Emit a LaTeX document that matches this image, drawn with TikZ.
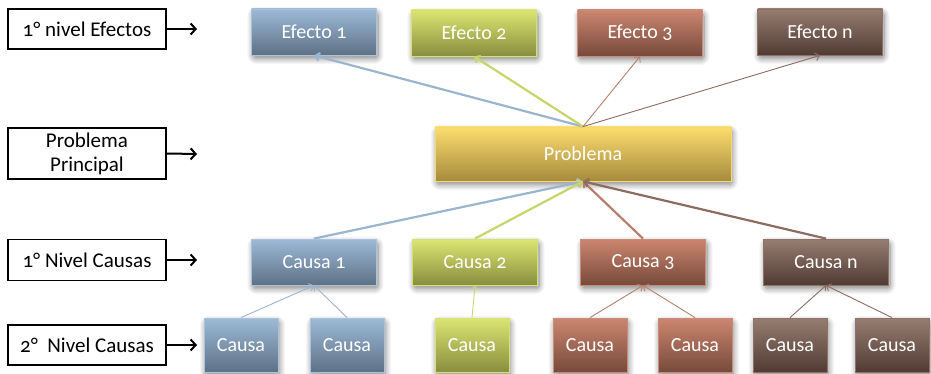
\documentclass[tikz,border=0pt]{standalone}
\usepackage{fontspec}
\setmainfont{Carlito}[Numbers=OldStyle]
\usetikzlibrary{arrows.meta,shadows.blur}

\definecolor{bluetop}{HTML}{9DBAD8}
\definecolor{bluebot}{HTML}{5E7185}
\definecolor{blueedge}{HTML}{A9C3DD}
\definecolor{greentop}{HTML}{DCE672}
\definecolor{greenbot}{HTML}{888E3E}
\definecolor{greenedge}{HTML}{D5E170}
\definecolor{redtop}{HTML}{CC8670}
\definecolor{redbot}{HTML}{774A3B}
\definecolor{rededge}{HTML}{C98C78}
\definecolor{browntop}{HTML}{977D72}
\definecolor{brownbot}{HTML}{503B33}
\definecolor{brownedge}{HTML}{8F7267}
\definecolor{goldtop}{HTML}{FCDD6E}
\definecolor{goldbot}{HTML}{A68B3E}
\definecolor{goldedge}{HTML}{F6D86E}
\definecolor{blueline}{HTML}{9AB5CF}
\definecolor{greenline}{HTML}{C9D56B}
\definecolor{redline}{HTML}{B67F6B}
\definecolor{brownline}{HTML}{8C6B60}

\tikzset{
  cbox/.style={rectangle, inner sep=0pt, text=white, font=\fontsize{20}{22}\selectfont,
    line width=0.8pt,
    blur shadow={shadow xshift=1.5pt, shadow yshift=-3.5pt, shadow blur steps=10,
      shadow blur radius=6pt, shadow blur extra rounding=3pt, shadow opacity=50}},
  wide/.style={cbox, minimum width=125pt, minimum height=46pt},
  small/.style={cbox, minimum width=74pt, minimum height=54pt},
  bluefill/.style={top color=bluetop, bottom color=bluebot, draw=blueedge},
  greenfill/.style={top color=greentop, bottom color=greenbot, draw=greenedge},
  redfill/.style={top color=redtop, bottom color=redbot, draw=rededge},
  brownfill/.style={top color=browntop, bottom color=brownbot, draw=brownedge},
  goldfill/.style={top color=goldtop, bottom color=goldbot, draw=goldedge},
  lvl/.style={rectangle, draw=black, line width=1.7pt, fill=white, inner sep=0pt,
    align=center, font=\fontsize{21}{24}\selectfont, minimum width=158pt},
  tip/.style={-{Straight Barb[length=4pt, width=8pt]}},
  lvltip/.style={-{Straight Barb[length=5pt, width=11pt]}},
  lvlarrow/.style={lvltip, line width=2pt, black},
  heavy/.style={tip, line width=2.2pt},
  light/.style={tip, line width=0.9pt},
}

\begin{document}
\begin{tikzpicture}[x=1pt, y=-1pt]
  \useasboundingbox (0,0) rectangle (931,374);

  % level labels on the left
  \node[lvl, minimum height=40pt] (L1) at (87,29) {1° nivel Efectos};
  \node[lvl, minimum height=51pt] (L2) at (87,153.5) {Problema\\Principal};
  \node[lvl, minimum height=41pt] (L3) at (87,260) {1° Nivel Causas};
  \node[lvl, minimum height=40pt] (L4) at (87,345) {2°\ \ Nivel Causas};
  \coordinate (A1) at (197,29);
  \coordinate (A2) at (197,154);
  \coordinate (A3) at (197,260);
  \coordinate (A4) at (197,345);
  \draw[lvlarrow] (L1.east) -- (A1);
  \draw[lvlarrow] (L2.east) -- (A2);
  \draw[lvlarrow] (L3.east) -- (A3);
  \draw[lvlarrow] (L4.east) -- (A4);

  % effects
  \node[wide, bluefill]  (E1) at (314,32) {Efecto 1};
  \node[wide, greenfill] (E2) at (474,33) {Efecto 2};
  \node[wide, redfill]   (E3) at (640,33) {Efecto 3};
  \node[wide, brownfill] (En) at (820,32) {Efecto n};

  % main problem
  \node[cbox, goldfill, minimum width=296pt, minimum height=54pt] (P) at (583,154) {Problema};

  % first-level causes
  \node[wide, bluefill]  (C1) at (314,262) {Causa 1};
  \node[wide, greenfill] (C2) at (475,262) {Causa 2};
  \node[wide, redfill]   (C3) at (643,262) {Causa 3};
  \node[wide, brownfill] (Cn) at (826,262) {Causa n};

  % second-level causes
  \node[small, bluefill]  (B1) at (241,345) {Causa};
  \node[small, bluefill]  (B2) at (347,345) {Causa};
  \node[small, greenfill] (G1) at (472,345) {Causa};
  \node[small, redfill]   (R1) at (590,345) {Causa};
  \node[small, redfill]   (R2) at (695,345) {Causa};
  \node[small, brownfill] (N1) at (790,345) {Causa};
  \node[small, brownfill] (N2) at (892,345) {Causa};

  % problem -> effects
  \draw[heavy, blueline]  (P.north) -- (E1.south);
  \draw[heavy, greenline] (P.north) -- (E2.south);
  \draw[light, redline]   (P.north) -- (E3.south);
  \draw[light, brownline] (P.north) -- (En.south);

  % first-level causes -> problem
  \draw[heavy, blueline]  (C1.north) -- (P.south);
  \draw[heavy, greenline] (C2.north) -- (P.south);
  \draw[heavy, redline]   (C3.north) -- (P.south);
  \draw[heavy, brownline] (Cn.north) -- (P.south);

  % second-level causes -> first-level causes
  \draw[light, blueline]  (B1.north) -- (C1.south);
  \draw[light, blueline]  (B2.north) -- (C1.south);
  \draw[light, greenline] (G1.north) -- (C2.south);
  \draw[light, redline]   (R1.north) -- (C3.south);
  \draw[light, redline]   (R2.north) -- (C3.south);
  \draw[light, brownline] (N1.north) -- (Cn.south);
  \draw[light, brownline] (N2.north) -- (Cn.south);
\end{tikzpicture}
\end{document}
